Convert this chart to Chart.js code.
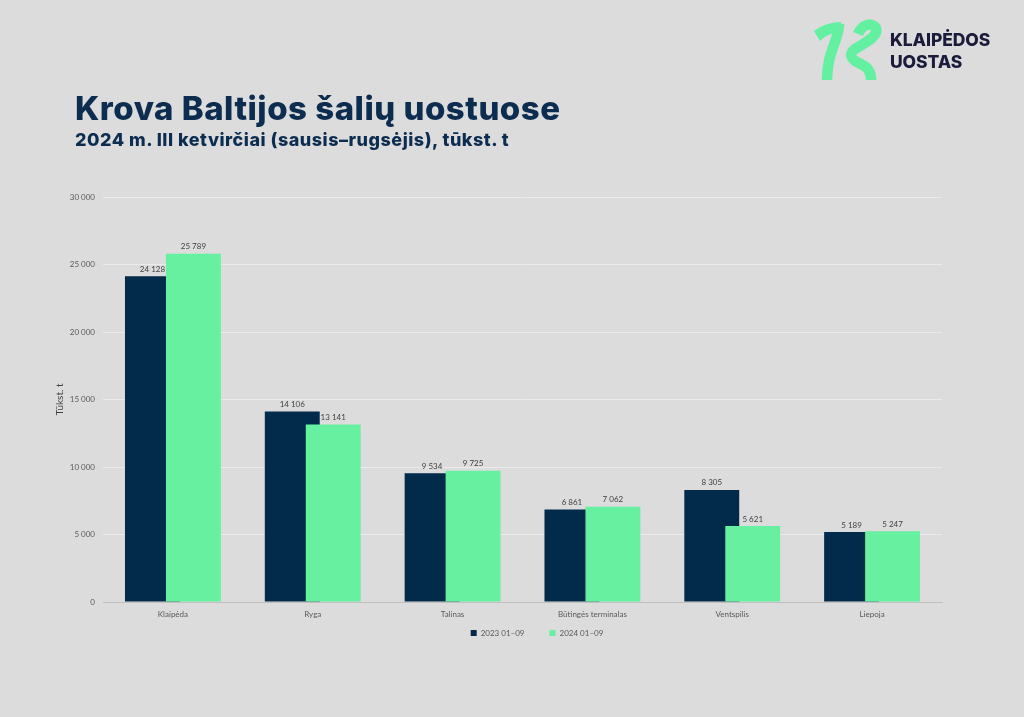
<!DOCTYPE html>
<html lang="lt">
<head>
<meta charset="utf-8">
<title>Krova Baltijos šalių uostuose</title>
<script src="https://cdn.jsdelivr.net/npm/chart.js@4"></script>
<style>
  html, body { margin: 0; padding: 0; background: #dcdcdc; }
  #page { position: relative; width: 1024px; height: 717px; overflow: hidden; }
  #chartBox { position: absolute; left: 0; top: 0; width: 1024px; height: 717px; }
  .title { position: absolute; left: 75px; top: 89px; font-family: Inter, sans-serif; font-weight: 800;
           font-size: 33px; line-height: 38px; letter-spacing: 0.5px; color: #0c2d50; white-space: nowrap; }
  .subtitle { position: absolute; left: 75px; top: 129px; font-family: Inter, sans-serif; font-weight: 800;
              font-size: 18px; line-height: 22px; letter-spacing: 0.5px; color: #0c2d50; white-space: nowrap; }
  .logoText { position: absolute; left: 890px; top: 29px; font-family: Inter, sans-serif; font-weight: 800;
              font-size: 17.5px; line-height: 22px; color: #1b1c3c; letter-spacing: -0.1px; }
  #logo { position: absolute; left: 808px; top: 16px; }
</style>
</head>
<body>
<div id="page">
  <div id="chartBox"><canvas id="krovaChart"></canvas></div>
  <div class="title">Krova Baltijos šalių uostuose</div>
  <div class="subtitle">2024 m. III ketvirčiai (sausis–rugsėjis), tūkst. t</div>
  <svg id="logo" width="80" height="70" viewBox="0 0 80 70">
    <path d="M6,15 C14,9 24,6 33,6 L35,15 C26,16 18,19 12,25 Z" fill="#63f0a0"/>
    <g fill="none" stroke="#63f0a0" stroke-width="10.5" stroke-linecap="butt">
      <path d="M31,8 C31,24 19,36 19,64"/>
      <path d="M50,18 C54,8 64,6 68,12 C71,20 57,27 47,33 C41,37 42,43 51,47 C59,51 63,54 63,64"/>
    </g>
  </svg>
  <div class="logoText">KLAIPĖDOS<br>UOSTAS</div>
</div>

<script>
// duomenys
const ports = ["Klaipėda", "Ryga", "Talinas", "Būtingės terminalas", "Ventspilis", "Liepoja"];
const cargo2023 = [24128, 14106, 9534, 6861, 8305, 5189];
const cargo2024 = [25789, 13141, 9725, 7062, 5621, 5247];
const seriesNames = ["2023 01–09", "2024 01–09"];

const navy = "#022a4b";
const mint = "#66f0a0";

function fmt(v) {
    return String(v).replace(/\B(?=(\d{3})+(?!\d))/g, " ");
}

// piesiam 2023 pirma, kad 2024 stulpeliai butu virsuje + reiksmes
const barLabels = {
    id: "barLabels",
    beforeDatasetsDraw(chart) {
        const metas = chart.getSortedVisibleDatasetMetas();
        metas.forEach(m => m.controller.draw());

        const ctx = chart.ctx;
        ctx.save();
        ctx.font = "8px Lato";
        ctx.fillStyle = "#404040";
        ctx.textAlign = "center";
        ctx.textBaseline = "bottom";
        metas.forEach(m => {
            const data = chart.data.datasets[m.index].data;
            m.data.forEach((bar, i) => {
                ctx.fillText(fmt(data[i]), bar.x, bar.y - 3);
            });
        });
        ctx.restore();
        return false;
    }
};

const krovaChart = new Chart(document.getElementById("krovaChart"), {
    type: "bar",
    data: {
        labels: ports,
        datasets: [
            {
                label: seriesNames[0],
                data: cargo2023,
                backgroundColor: navy,
                borderWidth: 0
            },
            {
                label: seriesNames[1],
                data: cargo2024,
                backgroundColor: mint,
                borderWidth: 0
            }
        ]
    },
    options: {
        responsive: true,
        maintainAspectRatio: false,
        animation: false,
        datasets: {
            bar: {
                categoryPercentage: 0.586,
                barPercentage: 1.34
            }
        },
        layout: {
            padding: { left: 50, right: 0, top: 197, bottom: 70 }
        },
        plugins: {
            legend: {
                position: "bottom",
                labels: {
                    boxWidth: 6,
                    boxHeight: 6,
                    padding: 7,
                    color: "#595959",
                    font: { family: "Lato", size: 8 },
                    // tarpas tarp legendos elementu
                    generateLabels(chart) {
                        const items = Chart.defaults.plugins.legend.labels.generateLabels(chart);
                        items[0].text += "\u2003\u2003\u2003";
                        return items;
                    }
                }
            },
            tooltip: { enabled: false }
        },
        scales: {
            x: {
                afterFit(scale) { scale.height = 20; },
                grid: { display: false, drawTicks: false },
                border: { color: "#bfbfbf" },
                ticks: {
                    color: "#595959",
                    padding: 8,
                    font: { family: "Lato", size: 8 }
                }
            },
            y: {
                min: 0,
                max: 30000,
                afterFit(scale) { scale.width = 53; },
                border: { display: false },
                grid: {
                    drawTicks: false,
                    color: ctx => ctx.tick && ctx.tick.value === 0 ? "#bfbfbf" : "#ebebeb"
                },
                ticks: {
                    stepSize: 5000,
                    padding: 8,
                    color: "#595959",
                    font: { family: "Lato", size: 8 },
                    callback: v => fmt(v)
                },
                title: {
                    display: true,
                    text: "Tūkst. t",
                    color: "#404040",
                    padding: { top: 4, bottom: 0 },
                    font: { family: "Lato", size: 10 }
                }
            },
            // tuscia desine asis - tik vietai
            yRight: {
                type: "linear",
                position: "right",
                afterFit(scale) { scale.width = 82; },
                grid: { display: false },
                border: { display: false },
                ticks: { display: false }
            }
        }
    },
    plugins: [barLabels]
});
</script>
</body>
</html>
